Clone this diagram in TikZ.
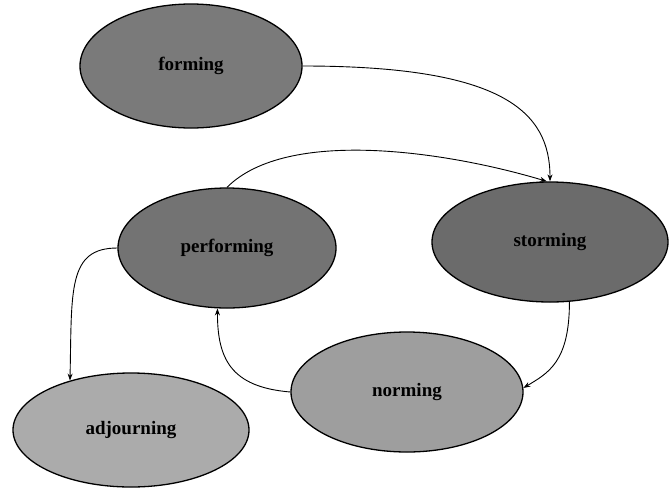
\documentclass[tikz,border=0pt]{standalone}
\usepackage{fontspec}
\setmainfont{Liberation Serif}
\usetikzlibrary{shapes.geometric,arrows.meta}
\tikzset{
  stage/.style={ellipse, draw=black, line width=1.3pt, inner sep=0pt,
    font=\fontsize{19}{21}\selectfont\bfseries, text=black},
  link/.style={draw=black, line width=0.9pt, -{Stealth[length=7pt,width=5pt]}}
}
\begin{document}
\begin{tikzpicture}[x=1pt,y=-1pt]
\useasboundingbox (0,0) rectangle (669,496);
\node[stage, fill=black!52, minimum width=222pt, minimum height=124pt] (forming) at (191,66) {forming};
\node[stage, fill=black!58, minimum width=236pt, minimum height=120pt] (storming) at (550,242) {storming};
\node[stage, fill=black!55, minimum width=218pt, minimum height=120pt] (performing) at (227,248) {performing};
\node[stage, fill=black!38, minimum width=232pt, minimum height=120pt] (norming) at (407,392) {norming};
\node[stage, fill=black!33, minimum width=236pt, minimum height=114pt] (adjourning) at (131,430) {adjourning};

\draw[link] (forming.east) .. controls +(200,0) and +(0,-70) .. (storming.north);
\draw[link] (performing.north) .. controls +(60,-60) and +(-100,-30) .. (storming.93);
\draw[link] (storming.-72) .. controls +(0,60) and +(25,-15) .. (norming.2);
\draw[link] (norming.west) .. controls +(-60,-5) and +(0,50) .. (performing.-99);
\draw[link] (performing.west) .. controls +(-50,0) and +(2,-90) .. (adjourning.141);
\end{tikzpicture}
\end{document}
